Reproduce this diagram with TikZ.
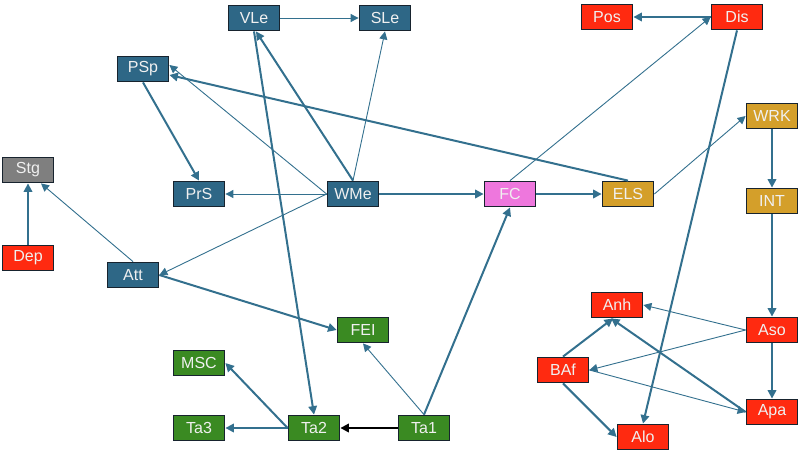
\documentclass[tikz,border=0pt]{standalone}
\usepackage{fontspec}
\setmainfont{Liberation Sans}
\usetikzlibrary{arrows.meta}
\definecolor{nblue}{HTML}{2E6786}
\definecolor{ngreen}{HTML}{3A8A22}
\definecolor{nred}{HTML}{FF2A10}
\definecolor{ngold}{HTML}{D49F2A}
\definecolor{npink}{HTML}{EE77DD}
\definecolor{ngray}{HTML}{7F7F7F}
\definecolor{nborder}{HTML}{17232E}
\definecolor{edgec}{HTML}{33708E}
\tikzset{
  box/.style={draw=nborder, line width=1.8pt, minimum width=51pt, minimum height=25pt, inner sep=0pt, text=white!94!black, font=\fontsize{16}{16}\selectfont},
  bbox/.style={box, fill=nblue},
  gbox/.style={box, fill=ngreen},
  rbox/.style={box, fill=nred},
  ybox/.style={box, fill=ngold},
  pbox/.style={box, fill=npink},
  kbox/.style={box, fill=ngray},
  thin/.style={draw=edgec, line width=0.9pt, -{Triangle[length=8pt,width=8pt]}},
  thk/.style={draw=edgec, line width=2pt, -{Triangle[length=8.5pt,width=8.5pt]}},
  blk/.style={draw=black, line width=2pt, -{Triangle[length=8.5pt,width=8.5pt]}},
}
\begin{document}
\begin{tikzpicture}[x=1pt,y=-1pt]
\useasboundingbox (0,0) rectangle (800,455);
% nodes
\node[bbox] (VLe) at (254,18) {VLe};
\node[bbox] (SLe) at (385,18) {SLe};
\node[bbox] (PSp) at (143,69) {PSp};
\node[kbox] (Stg) at (28,170) {Stg};
\node[bbox] (PrS) at (199,194) {PrS};
\node[bbox] (WMe) at (353,194) {WMe};
\node[rbox] (Pos) at (607,17) {Pos};
\node[rbox] (Dis) at (737,17) {Dis};
\node[ybox] (WRK) at (772,116) {WRK};
\node[ybox] (INT) at (772,201) {INT};
\node[pbox] (FC) at (510,194) {FC};
\node[ybox] (ELS) at (628,194) {ELS};
\node[rbox] (Dep) at (28,258) {Dep};
\node[bbox] (Att) at (133,275) {Att};
\node[gbox] (FEI) at (363,330) {FEI};
\node[gbox] (MSC) at (199,363) {MSC};
\node[gbox] (Ta3) at (199,428) {Ta3};
\node[gbox] (Ta2) at (314,428) {Ta2};
\node[gbox] (Ta1) at (424,428) {Ta1};
\node[rbox] (Anh) at (617,305) {Anh};
\node[rbox] (Aso) at (772,330) {Aso};
\node[rbox] (BAf) at (563,370) {BAf};
\node[rbox] (Apa) at (772,412) {Apa};
\node[rbox] (Alo) at (643,437) {Alo};
% edges
\draw[thin] (VLe.east) -- (SLe.west);
\draw[thin] (WMe.north) -- (SLe.south);
\draw[thk] (WMe.north) -- ([xshift=2pt]VLe.south);
\draw[thk] (VLe.south) -- (Ta2.north);
\draw[thk] (PSp.south) -- (PrS.north);
\draw[thin] (WMe.west) -- ([yshift=4pt]PSp.east);
\draw[thk] (ELS.north) -- ([yshift=-6pt]PSp.east);
\draw[thin] (WMe.west) -- (PrS.east);
\draw[thin] (WMe.west) -- (Att.east);
\draw[thin] (Att.north) -- ([xshift=13pt]Stg.south);
\draw[thk] (Dep.north) -- (Stg.south);
\draw[thk] (Att.east) -- (FEI.west);
\draw[thin] (Ta1.north) -- (FEI.south);
\draw[thk] (Ta1.north) -- (FC.south);
\draw[blk] (Ta1.west) -- (Ta2.east);
\draw[thk] (Ta2.west) -- (Ta3.east);
\draw[thk] (Ta2.west) -- (MSC.east);
\draw[thk] (WMe.east) -- (FC.west);
\draw[thk] (FC.east) -- (ELS.west);
\draw[thin] (FC.north) -- (Dis.west);
\draw[thk] (Dis.west) -- (Pos.east);
\draw[thk] (Dis.south) -- (Alo.north);
\draw[thin] (ELS.east) -- (WRK.west);
\draw[thk] (WRK.south) -- (INT.north);
\draw[thk] (INT.south) -- (Aso.north);
\draw[thk] (Aso.south) -- (Apa.north);
\draw[thin] (Aso.west) -- (Anh.east);
\draw[thin] (Aso.west) -- (BAf.east);
\draw[thin] (BAf.east) -- (Apa.west);
\draw[thk] (Apa.west) -- ([xshift=-6pt]Anh.south);
\draw[thk] (BAf.north) -- ([xshift=-4pt]Anh.south);
\draw[thk] (BAf.south) -- (Alo.west);
\end{tikzpicture}
\end{document}
